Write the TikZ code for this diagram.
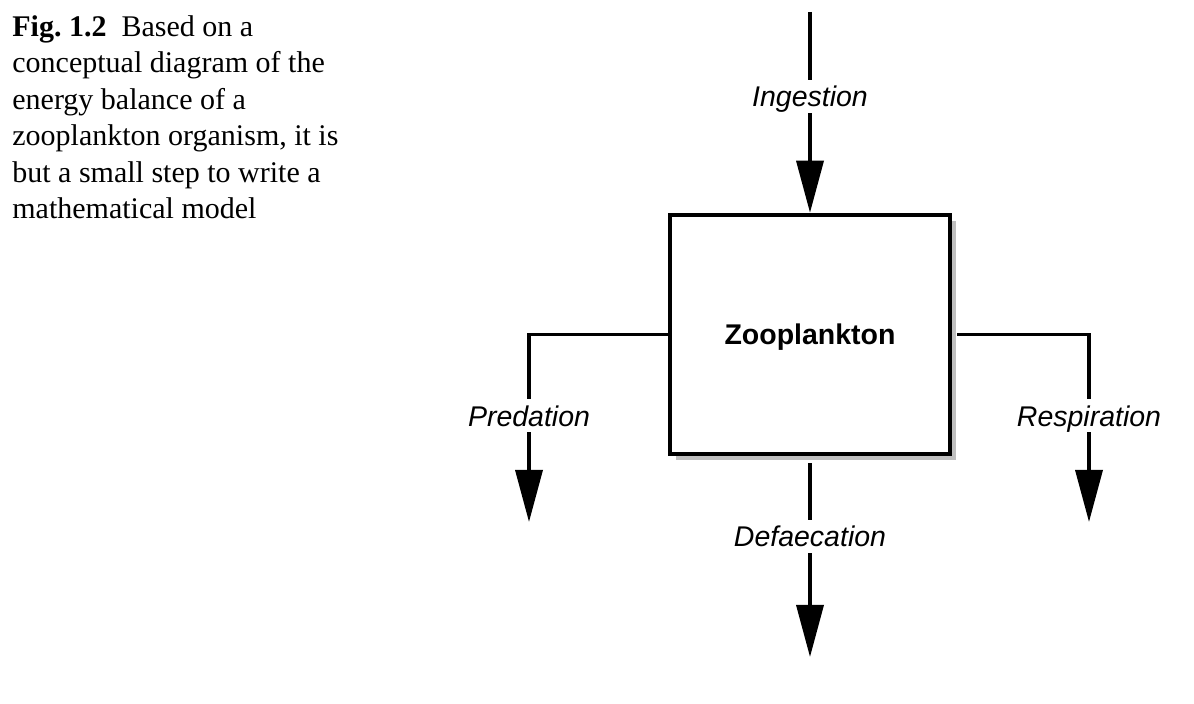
\documentclass[tikz,border=0pt]{standalone}
\usepackage{fontspec}
\setmainfont{Liberation Serif}
\newfontfamily\helv{Liberation Sans}
\usetikzlibrary{arrows.meta,shadows,positioning}

\tikzset{
  flow/.style={line width=1.75pt, -{Triangle[length=26pt,width=13.5pt]}},
  lbl/.style={fill=white, inner xsep=2pt, inner ysep=3pt, text height=10.4pt, text depth=0pt,
    font=\helv\itshape\fontsize{14.25}{16}\selectfont},
  compartment/.style={draw, line width=2.25pt, fill=white,
    minimum width=140pt, minimum height=119.5pt, text depth=0pt,
    font=\helv\bfseries\fontsize{14.25}{16}\selectfont,
    drop shadow={shadow xshift=3pt, shadow yshift=-3pt, fill=black!25, opacity=1}},
}

\begin{document}
\begin{tikzpicture}[x=0.5pt, y=-0.5pt]
\useasboundingbox (0,0) rectangle (1194,704);
% caption
\node[anchor=north west, inner sep=0pt, align=left,
  font=\fontsize{15}{18.25}\selectfont] (caption) at (12,15)
  {\textbf{Fig.~1.2}\hspace{0.5em}Based on a\\
   conceptual diagram of the\\
   energy balance of a\\
   zooplankton organism, it is\\
   but a small step to write a\\
   mathematical model};
% compartment and flows
\node[compartment] (zoo) at (810,334.5) {Zooplankton};
\coordinate (ing) at (810,12);
\coordinate (pred) at (529,522);
\coordinate (resp) at (1089,522);
\coordinate (def) at (810,657);
\draw[flow] (ing) -- node[lbl, pos=0.42] {Ingestion} (zoo.north);
\draw[flow] (zoo.west) -| node[lbl, pos=0.717] {Predation} (pred);
\draw[flow, shorten <=2.5pt] (zoo.east) -| node[lbl, pos=0.717] {Respiration} (resp);
\draw[flow, shorten <=3.5pt] (zoo.south) -- node[lbl, pos=0.40] {Defaecation} (def);
\end{tikzpicture}
\end{document}
